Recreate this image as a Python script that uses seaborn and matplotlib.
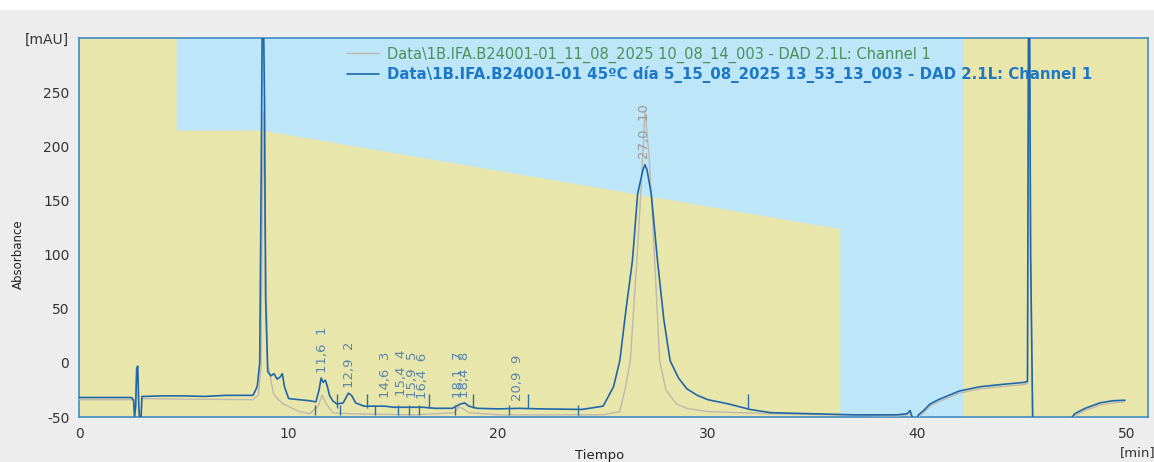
import pandas as pd
import seaborn as sns
import matplotlib.pyplot as plt
from matplotlib.patches import Rectangle

# datos del cromatograma (tiempo en min, absorbancia en mAU)
t_azul = [0, 2.5, 2.6, 2.65, 2.7, 2.75, 2.8, 2.85, 2.9, 2.95, 3.0, 3.1, 4.0, 5.0, 6.0, 7.0,
          8.3, 8.5, 8.62, 8.7, 8.74, 8.8, 8.85, 8.9, 9.0, 9.15, 9.3, 9.45, 9.6, 9.7, 9.8, 10.0,
          10.5, 11.0, 11.3, 11.45, 11.55, 11.65, 11.75, 11.85, 11.95, 12.1, 12.3, 12.6, 12.85,
          13.0, 13.2, 13.6, 14.0, 14.6, 15.0, 15.5, 16.0, 16.4, 17.0, 17.8, 18.0, 18.2, 18.4,
          18.6, 19.0, 20.0, 21.0, 22.0, 24.0, 25.0, 25.2, 25.5, 25.8, 26.1, 26.4, 26.65, 26.9,
          27.0, 27.1, 27.3, 27.6, 27.9, 28.2, 28.6, 29.0, 29.5, 30.0, 31.0, 32.0, 33.0, 35.0,
          37.0, 39.0, 39.5, 39.65, 39.75, 39.9, 40.05, 40.3, 40.6, 41.0, 41.5, 42.0, 43.0, 44.0,
          45.1, 45.25, 45.3, 45.35, 45.4, 45.5, 47.2, 47.5, 48.0, 48.7, 49.3, 49.9]
y_azul = [-32, -32, -34, -50, -40, -5, -3, -40, -55, -55, -31, -31, -30.5, -30.5, -31, -30,
          -30, -22, 0, 200, 320, 320, 240, 60, -8, -12, -10, -15, -13, -10, -22, -33,
          -34, -35, -36, -25, -14, -18, -16, -22, -30, -35, -38, -37, -28,
          -30, -37, -40, -40, -40, -41, -41, -41, -41, -42, -42, -40, -38, -37,
          -40, -42, -42.5, -42, -42.5, -43, -40, -33, -22, 2, 50, 94, 156, 178,
          183, 178, 156, 94, 40, 2, -14, -24, -30, -34, -38, -43, -46, -47,
          -48, -48, -47, -44, -50, -55, -48, -44, -38, -34, -30, -26, -22, -20,
          -18, -17, 320, 320, 100, -55, -55, -47, -42, -37, -35, -34.5]

t_gris = [0, 2.5, 2.6, 2.65, 2.7, 2.75, 2.8, 2.85, 2.9, 2.95, 3.0, 5.0, 8.3, 8.55, 8.68,
          8.75, 8.8, 8.88, 9.0, 9.27, 9.5, 9.75, 10.5, 11.0, 11.4, 11.6, 11.8, 12.1, 13.0,
          16.0, 17.9, 18.1, 18.3, 18.6, 20.0, 25.0, 25.8, 26.1, 26.3, 26.6, 26.8, 27.0,
          27.2, 27.3, 27.5, 27.7, 28.0, 28.5, 29.0, 30.0, 33.0, 36.0, 39.0, 39.5, 39.65,
          39.75, 39.9, 40.05, 40.3, 40.6, 41.0, 41.5, 42.0, 43.0, 44.0, 45.1, 45.25, 45.3,
          45.35, 45.4, 45.5, 47.2, 47.5, 48.0, 48.7, 49.3, 49.9]
y_gris = [-34, -34, -35, -50, -42, -10, -8, -42, -55, -55, -33, -33.5, -34, -30, -5,
          150, 232, 120, 0, -28, -34, -38, -45, -47, -40, -30, -38, -46, -47,
          -48, -46, -41, -42, -46, -48, -48, -45, -20, 2, 90, 156, 233,
          190, 156, 80, 2, -25, -38, -42, -45, -47, -48, -49, -48, -46,
          -52, -55, -50, -46, -40, -36, -32, -28, -24, -22, -20, -19, 320,
          320, 100, -55, -55, -49, -44, -39, -37, -36]

# picos integrados
picos_t = [11.6, 12.9, 14.6, 15.4, 15.9, 16.4, 18.1, 18.4, 20.9, 27.0]
picos_nombre = ["11,6", "12,9", "14,6", "15,4", "15,9", "16,4", "18,1", "18,4", "20,9", "27,0"]
picos_num = ["1", "2", "3", "4", "5", "6", "7", "8", "9", "10"]
picos_alto = [-14, -28, -37, -36, -37, -38, -37, -37, -40, 183]

# marcas de integración (arriba y abajo de la línea base)
marcas_altas = [12.3, 13.75, 16.7, 18.8, 21.4, 31.9]
marcas_bajas = [11.27, 12.46, 14.1, 15.2, 15.75, 16.2, 17.95, 20.5, 23.8]

# zonas de fondo del software
zona_amarilla_t = [0, 4.63, 4.63, 8.7, 36.3, 36.3]
zona_amarilla_y = [300, 300, 215, 215, 124, -50]
zona_final = [42.2, 51.0]

leyenda_gris = "Data\\1B.IFA.B24001-01_11_08_2025 10_08_14_003 - DAD 2.1L: Channel 1"
leyenda_azul = "Data\\1B.IFA.B24001-01 45ºC día 5_15_08_2025 13_53_13_003 - DAD 2.1L: Channel 1"

df = pd.concat([
    pd.DataFrame({"Tiempo": t_gris, "Absorbance": y_gris, "serie": "gris"}),
    pd.DataFrame({"Tiempo": t_azul, "Absorbance": y_azul, "serie": "azul"}),
])

sns.set_style("white")
plt.rcParams['font.family'] = ['DejaVu Sans']

amarillo = "#E9E6AB"
celeste = "#BDE6F9"
borde = "#3F8CBF"

fig = plt.figure(figsize=(11.54, 4.62), dpi=100, facecolor="#EDEDED")
fig.patches.append(Rectangle((0, 0.978), 1, 0.022, transform=fig.transFigure,
                             facecolor="white", edgecolor="none", zorder=-1))
ax = fig.add_axes([0.0685, 0.0974, 0.9263, 0.8203])
ax.set_facecolor(celeste)

ax.fill_between(zona_amarilla_t, -50, zona_amarilla_y, color=amarillo, lw=0, zorder=0)
ax.axvspan(zona_final[0], zona_final[1], color=amarillo, lw=0, zorder=0)

sns.lineplot(data=df, x="Tiempo", y="Absorbance", hue="serie",
             palette={"gris": "#BEB8AE", "azul": "#1F67A8"},
             estimator=None, sort=False, linewidth=1.2, legend=False, ax=ax, zorder=3)
ax.lines[0].set_linewidth(1.0)

ax.vlines(marcas_altas, -42, -29, color="#2A6FA8", lw=1, zorder=4)
ax.vlines(marcas_bajas, -48, -39, color="#2A6FA8", lw=1, zorder=4)

for t, nombre, num, alto in zip(picos_t, picos_nombre, picos_num, picos_alto):
    color = "#9A9A9A" if nombre == "27,0" else "#5A86AE"
    ax.text(t, alto + 5, f"{nombre}  {num}", rotation=90, ha="center", va="bottom",
            fontsize=9.5, color=color, zorder=5)

# leyenda
ax.plot([], [], color="#BEB8AE", lw=1, label=leyenda_gris)
ax.plot([], [], color="#1F67A8", lw=1.2, label=leyenda_azul)
leg = ax.legend(loc="upper left", bbox_to_anchor=(0.238, 1.012), frameon=False,
                fontsize=10.5, handlelength=2.2, handletextpad=0.6, labelspacing=0.2)
textos = leg.get_texts()
textos[0].set_color("#4E8F58")
textos[1].set_color("#1E78C8")
textos[1].set_fontweight("bold")
textos[1].set_fontsize(10.8)

ax.set_xlim(0, 51.0)
ax.set_ylim(-50, 300)
ax.set_xticks([0, 10, 20, 30, 40, 50])
ax.set_yticks([-50, 0, 50, 100, 150, 200, 250, 300])
ax.set_yticklabels(["-50", "0", "50", "100", "150", "200", "250", "[mAU]"])
ax.tick_params(axis="both", direction="out", length=5, width=1, color=borde,
               labelsize=10, labelcolor="#333333", pad=2)
for s in ax.spines.values():
    s.set_color(borde)
    s.set_linewidth(1.2)

ax.set_xlabel("")
ax.set_ylabel("")
fig.text(0.016, 0.45, "Absorbance", rotation=90, ha="center", va="center",
         fontsize=8.5, color="#222222")
fig.text(0.52, 0.015, "Tiempo", ha="center", va="center", fontsize=9.5, color="#222222")
ax.text(0.99, -0.093, "[min]", transform=ax.transAxes, ha="center", va="center",
        fontsize=9.5, color="#333333")

plt.savefig("out.png", dpi=100, facecolor=fig.get_facecolor())
